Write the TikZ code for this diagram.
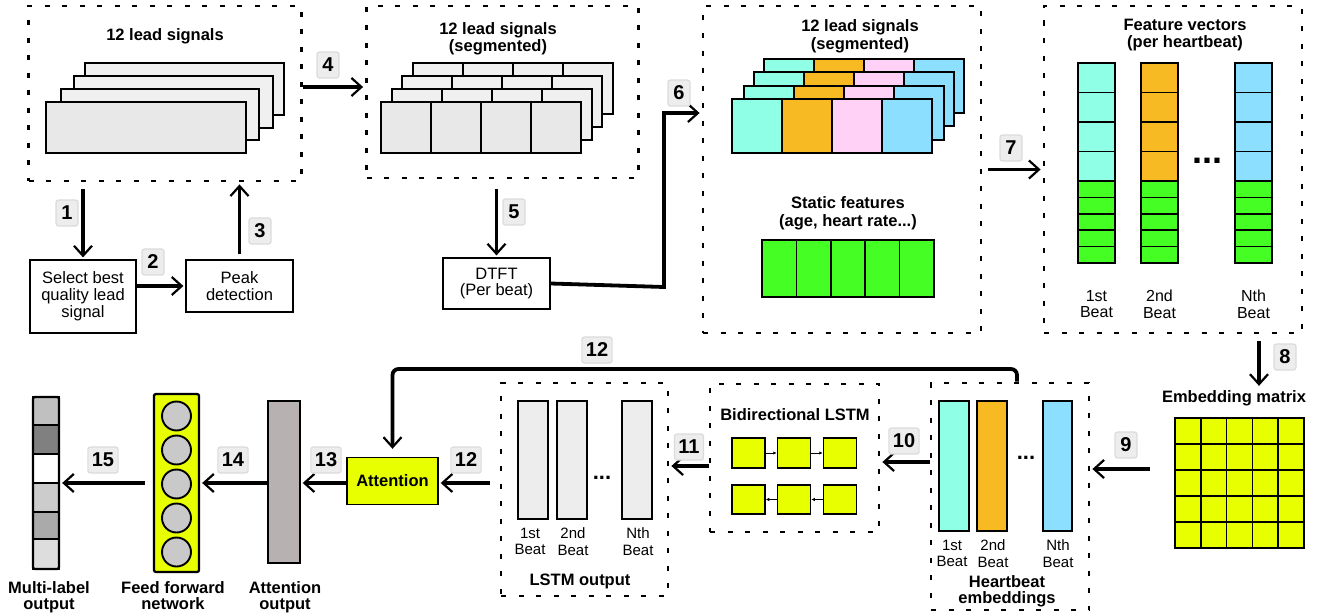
\documentclass[tikz,border=0pt]{standalone}
\usepackage{fontspec}
\setmainfont{Liberation Sans}
\usetikzlibrary{arrows.meta,calc}
\definecolor{mint}{HTML}{8FFFE5}
\definecolor{orng}{HTML}{F7BA22}
\definecolor{pink}{HTML}{FFD1F6}
\definecolor{lblue}{HTML}{8CDFFF}
\definecolor{grn}{HTML}{45FF24}
\definecolor{yel}{HTML}{E8FF00}
\definecolor{attg}{HTML}{B8B1B1}
\definecolor{cgray}{HTML}{C9C9C9}
\begin{document}
\begin{tikzpicture}[x=1pt,y=-1pt,
  dotbox/.style={draw, line width=2.8pt, dash pattern=on 5pt off 12.5pt, inner sep=0pt},
  arr/.style={line width=3.8pt, -{Straight Barb[length=10pt,width=18pt,line width=2.2pt]}, shorten >=2pt},
  smallarr/.style={line width=0.9pt, -{Latex[length=3.5pt,width=3.5pt]}},
  num/.style={draw=black!14, fill=black!7, rounded corners=2.5pt, line width=1.2pt, font=\bfseries\fontsize{20}{20}\selectfont, inner xsep=4pt, inner ysep=0pt, minimum height=26pt, minimum width=22pt},
  pbox/.style={draw, line width=1.2pt, fill=white, align=center, font=\fontsize{16.5}{16.8}\selectfont, inner sep=0pt},
  btitle/.style={align=center, font=\bfseries\fontsize{16.5}{17.5}\selectfont, inner sep=0pt},
  blabel/.style={align=center, font=\bfseries\fontsize{16.5}{15.5}\selectfont, inner sep=0pt, anchor=north},
  rtxt/.style={align=center, font=\fontsize{16}{16.5}\selectfont, inner sep=0pt, anchor=north},
  rtxts/.style={align=center, font=\fontsize{15}{16.5}\selectfont, inner sep=0pt, anchor=north},
  cell/.style={draw, line width=1.1pt},
  tcell/.style={draw, line width=1.7pt},
  dotsbig/.style={font=\bfseries\fontsize{36}{36}\selectfont, inner sep=0pt},
  dotssmall/.style={font=\bfseries\fontsize{22}{22}\selectfont, inner sep=0pt},
]
\useasboundingbox (0,0) rectangle (1318,613);

% ---------- Box A ----------
\node[dotbox, minimum width=273pt, minimum height=175pt] (A) at (165,93.5) {};
\node[btitle, anchor=base] (tA) at (165,40) {12 lead signals};
\filldraw[cell, fill=black!6] (85,63) rectangle (284,115);
\filldraw[cell, fill=black!6] (74,76) rectangle (273,128);
\filldraw[cell, fill=black!6] (61,89) rectangle (259,140);
\filldraw[cell, fill=black!9] (46,102) rectangle (246,153);

% ---------- small boxes ----------
\node[pbox, minimum width=106pt, minimum height=73pt] (sel) at (83,296.5) {Select best\\quality lead\\signal};
\node[pbox, minimum width=107pt, minimum height=52pt] (peak) at (239.5,286) {Peak\\detection};

% ---------- Box B ----------
\node[dotbox, minimum width=272pt, minimum height=172pt] (B) at (502.5,92) {};
\node[btitle, anchor=north] (tB) at (498,22) {12 lead signals\\(segmented)};
\foreach \x/\y/\f in {413/63/6,402/76/6,392/89/6,381/102/9} {
  \filldraw[cell, fill=black!\f] (\x,\y) rectangle ++(200,51);
  \foreach \k in {1,2,3} \draw[cell] (\x+50*\k,\y) -- ++(0,51);
}
\node[pbox, minimum width=107pt, minimum height=51pt] (dtft) at (496.5,283.5) {DTFT\\(Per beat)};

% ---------- Box C ----------
\node[dotbox, minimum width=278pt, minimum height=327pt] (C) at (842,169.5) {};
\node[btitle, anchor=north] (tC) at (860,19.5) {12 lead signals\\(segmented)};
\foreach \x/\y in {764/59,754/72,744/86,732/99} {
  \foreach \c [count=\k from 0] in {mint,orng,pink,lblue}
    \filldraw[cell, fill=\c] (\x+50*\k,\y) rectangle ++(50,54);
}
\node[btitle, anchor=north] (tS) at (848,196.5) {Static features\\(age, heart rate...)};
\foreach \k in {0,...,4} \filldraw[tcell, fill=grn] (762+34.4*\k,240) rectangle ++(34.4,57);

% ---------- Box D ----------
\node[dotbox, minimum width=258pt, minimum height=327pt] (D) at (1173,169.5) {};
\node[btitle, anchor=north] (tD) at (1185,18.5) {Feature vectors\\(per heartbeat)};
\foreach \x/\c in {1078/mint,1141/orng,1235/lblue} {
  \foreach \k in {0,...,3} \filldraw[cell, fill=\c] (\x,63+29.5*\k) rectangle ++(37,29.5);
  \foreach \k in {0,...,4} \filldraw[tcell, fill=grn] (\x,181+16.4*\k) rectangle ++(37,16.4);
}
\node[dotsbig] (ddots) at (1207,161) {...};
\node[rtxt] (d1) at (1096.5,290) {1st\\Beat};
\node[rtxt] (d2) at (1159.5,290) {2nd\\Beat};
\node[rtxt] (d3) at (1253.5,290) {Nth\\Beat};

% ---------- Embedding matrix ----------
\node[btitle, anchor=base] (emt) at (1234,402) {Embedding matrix};
\node[tcell, fill=yel, minimum width=129pt, minimum height=130pt, inner sep=0pt] (grid) at (1239.5,483) {};
\foreach \k in {1,...,4} {
  \draw[tcell] (1175+25.8*\k,418) -- ++(0,130);
  \draw[tcell] (1175,418+26*\k) -- ++(129,0);
}

% ---------- Box E (heartbeat embeddings) ----------
\node[dotbox, minimum width=158pt, minimum height=227pt] (E) at (1010,496.5) {};
\node[cell, fill=mint, minimum width=30pt, minimum height=130pt, inner sep=0pt] (e1) at (954,466) {};
\node[cell, fill=orng, minimum width=30pt, minimum height=130pt, inner sep=0pt] (e2) at (992,466) {};
\node[cell, fill=lblue, minimum width=29pt, minimum height=130pt, inner sep=0pt] (e3) at (1057.5,466) {};
\node[dotssmall] (edots) at (1026,458) {...};
\node[rtxts] (el1) at (952,539.5) {1st\\Beat};
\node[rtxts] (el2) at (993,539.5) {2nd\\Beat};
\node[rtxts] (el3) at (1058,539.5) {Nth\\Beat};
\node[blabel] (tE) at (1007,575.5) {Heartbeat\\embeddings};

% ---------- Box F (Bidirectional LSTM) ----------
\node[dotbox, minimum width=169pt, minimum height=148pt] (F) at (794.5,458) {};
\node[btitle, anchor=base] (tF) at (795,420) {Bidirectional LSTM};
\foreach \i/\x in {1/748.5,2/794,3/840} {
  \node[draw, line width=1.5pt, fill=yel, minimum width=33pt, minimum height=30pt, inner sep=0pt] (fa\i) at (\x,453) {};
  \node[draw, line width=1.5pt, fill=yel, minimum width=33pt, minimum height=29pt, inner sep=0pt] (fb\i) at (\x,499.5) {};
}
\draw[smallarr] (fa1) -- (fa2);
\draw[smallarr] (fa2) -- (fa3);
\draw[smallarr] (fb2) -- (fb1);
\draw[smallarr] (fb3) -- (fb2);

% ---------- Box G (LSTM output) ----------
\node[dotbox, minimum width=167pt, minimum height=213pt] (G) at (584.5,489.5) {};
\node[cell, fill=black!7, minimum width=30pt, minimum height=118pt, inner sep=0pt] (g1) at (533,460) {};
\node[cell, fill=black!7, minimum width=30pt, minimum height=118pt, inner sep=0pt] (g2) at (572,460) {};
\node[cell, fill=black!7, minimum width=30pt, minimum height=118pt, inner sep=0pt] (g3) at (637,460) {};
\node[dotssmall] (gdots) at (602,478) {...};
\node[rtxts] (gl1) at (530,527.5) {1st\\Beat};
\node[rtxts] (gl2) at (573,527.5) {2nd\\Beat};
\node[rtxts] (gl3) at (638,527.5) {Nth\\Beat};
\node[btitle, anchor=base] (tG) at (580,585) {LSTM output};

% ---------- Attention etc ----------
\node[draw, line width=1.4pt, fill=yel, minimum width=91pt, minimum height=47pt, inner sep=0pt, font=\bfseries\fontsize{16.5}{16.5}\selectfont] (att) at (392.5,481) {Attention};
\node[draw, line width=1.4pt, fill=attg, minimum width=32pt, minimum height=162pt, inner sep=0pt] (ao) at (284,482) {};
\node[blabel] (tao) at (285,581.5) {Attention\\output};
\node[draw, line width=2.3pt, fill=yel, rounded corners=2pt, minimum width=45pt, minimum height=178pt, inner sep=0pt] (ffn) at (176.5,483) {};
\foreach \k in {0,...,4}
  \node[circle, draw, line width=1.9pt, fill=cgray, minimum size=29pt, inner sep=0pt] (c\k) at (176.5,416+34*\k) {};
\node[blabel] (tffn) at (173,581.5) {Feed forward\\network};
% multi-label output
\foreach \a/\b/\c in {397/425/C0C0C0,425/454/808080,454/483/FFFFFF,483/512/CCCCCC,512/539/AAAAAA,539/569/DDDDDD} {
  \definecolor{tmpc}{HTML}{\c}
  \filldraw[cell, fill=tmpc] (33,\a) rectangle (59,\b);
}
\node[draw, line width=2.3pt, rounded corners=2pt, minimum width=26pt, minimum height=172pt, inner sep=0pt] (ml) at (46,483) {};
\node[blabel] (tml) at (49,581.5) {Multi-label\\output};

% ---------- connectors ----------
\coordinate (k4) at (302,87);
\coordinate (k6) at (664,287);
\coordinate (k6b) at (664,113);
\coordinate (k8) at (1259,340);
\coordinate (k9) at (1150,469);
\coordinate (k10) at (0,462);
\coordinate (k11) at (0,466);
\coordinate (k12) at (490,483);
\coordinate (k12u) at (1017,369);
\coordinate (mid) at (0,483);

\draw[arr, shorten <=7pt] (sel.north |- A.south) -- (sel.north);
\draw[arr] (sel.east |- peak.west) -- (peak.west);
\draw[arr, shorten <=5pt] (peak.north) -- (peak.north |- A.south);
\draw[arr] (A.east |- k4) -- (B.west |- k4);
\draw[arr, shorten <=10pt] (dtft.north |- B.south) -- (dtft.north);
\draw[arr] (dtft.east) -- (k6) -- (k6b) -- (C.west |- k6b);
\draw[arr, shorten <=6pt] (C.east) -- (D.west);
\draw[arr, shorten <=7pt, shorten >=4pt] (k8 |- D.south) -- (k8 |- emt.north);
\draw[arr] (k9) -- (E.east |- k9);
\draw[arr] (E.west |- k10) -- (F.east |- k10);
\draw[arr] (F.west |- k11) -- (G.east |- k11);
\draw[arr, rounded corners=6pt, shorten >=8pt] (k12u |- E.north) -- (k12u) -- (att.north |- k12u) -- (att.north);
\draw[arr] (k12) -- (att.east |- k12);
\draw[arr] (att.west |- mid) -- (ao.east |- mid);
\draw[arr] (ao.west |- mid) -- (ffn.east |- mid);
\draw[arr, shorten <=8pt] (ffn.west |- mid) -- (ml.east |- mid);

% ---------- number labels ----------
\node[num] (n1) at (67,213) {1};
\node[num] (n2) at (153,262) {2};
\node[num] (n3) at (260,231) {3};
\node[num] (n4) at (328,65) {4};
\node[num] (n5) at (514,212) {5};
\node[num] (n6) at (679,93) {6};
\node[num] (n7) at (1011,148) {7};
\node[num] (n8) at (1285,357) {8};
\node[num] (n9) at (1126,445) {9};
\node[num] (n10) at (904,441) {10};
\node[num] (n11) at (689,447) {11};
\node[num] (n12a) at (597,350) {12};
\node[num] (n12b) at (466,460) {12};
\node[num] (n13) at (326,460) {13};
\node[num] (n14) at (233,460) {14};
\node[num] (n15) at (103,460) {15};
\end{tikzpicture}
\end{document}
